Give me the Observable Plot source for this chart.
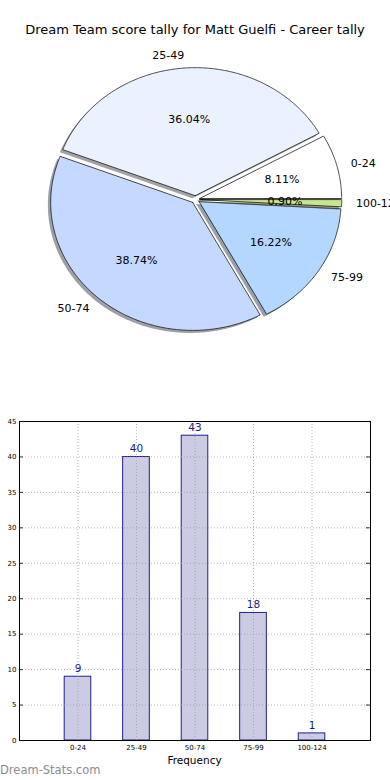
<!DOCTYPE html>
<html><head><meta charset="utf-8">
<script src="https://cdn.jsdelivr.net/npm/d3@7"></script>
<script src="https://cdn.jsdelivr.net/npm/@observablehq/plot@0.6"></script>
<style>
body{margin:0;background:#fff;font-family:"DejaVu Sans",sans-serif;}
#wrap{position:relative;width:390px;height:780px;overflow:hidden;background:#fff;}
.abs{position:absolute;white-space:nowrap;}
</style></head><body><div id="wrap"></div>
<script>
const categories = ["0-24", "25-49", "50-74", "75-99", "100-124"];
const counts = [9, 40, 43, 18, 1];
const sliceColors = ["#ffffff", "#eaf1ff", "#c5d8ff", "#b3d7ff", "#c8e68e"];
const yTicks = [0, 5, 10, 15, 20, 25, 30, 35, 40, 45];
const chartTitle = "Dream Team score tally for Matt Guelfi - Career tally";
const xLabel = "Frequency";
const watermark = "Dream-Stats.com";
const explode = 0.03;

const wrap = document.getElementById("wrap");
const total = d3.sum(counts);

// ---- pie geometry from data ----
let acc = 0;
const slices = categories.map((c, i) => {
  const a0 = acc / total * 2 * Math.PI;
  acc += counts[i];
  const a1 = acc / total * 2 * Math.PI;
  const mid = (a0 + a1) / 2;
  return {c, i, a0, a1, mid, ex: explode * Math.cos(mid), ey: explode * Math.sin(mid),
          pct: counts[i] / total * 100, color: sliceColors[i]};
});
function ring(s, ox = 0, oy = 0) {
  const pts = [{x: s.ex + ox, y: s.ey + oy}];
  const n = Math.max(3, Math.ceil((s.a1 - s.a0) / (Math.PI / 360)));
  for (let k = 0; k <= n; k++) {
    const a = s.a0 + (s.a1 - s.a0) * k / n;
    pts.push({x: s.ex + ox + Math.cos(a), y: s.ey + oy + Math.sin(a)});
  }
  pts.push({x: s.ex + ox, y: s.ey + oy});
  return pts;
}
function shadowColor(c) {
  const k = d3.rgb(c);
  return d3.rgb(k.r * 0.3, k.g * 0.3, k.b * 0.3).formatHex();
}
const pieMarks = [];
slices.forEach(s => {
  pieMarks.push(Plot.line(ring(s, -0.02, -0.02), {x: "x", y: "y", fill: shadowColor(s.color), fillOpacity: 0.5, stroke: "none"}));
  pieMarks.push(Plot.line(ring(s), {x: "x", y: "y", fill: s.color, stroke: "#000", strokeWidth: 0.7, strokeLinejoin: "miter"}));
});
pieMarks.push(Plot.text(slices, {
  x: d => d.ex + 0.6 * Math.cos(d.mid), y: d => d.ey + 0.6 * Math.sin(d.mid),
  text: d => d.pct.toFixed(2) + "%", fontSize: 11, fill: "#000"
}));
pieMarks.push(Plot.text(slices.filter(d => Math.cos(d.mid) >= 0), {
  x: d => d.ex + 1.1 * Math.cos(d.mid), y: d => d.ey + 1.1 * Math.sin(d.mid),
  text: "c", textAnchor: "start", fontSize: 11, fill: "#000"
}));
pieMarks.push(Plot.text(slices.filter(d => Math.cos(d.mid) < 0), {
  x: d => d.ex + 1.1 * Math.cos(d.mid), y: d => d.ey + 1.1 * Math.sin(d.mid),
  text: "c", textAnchor: "end", fontSize: 11, fill: "#000"
}));

const pie = Plot.plot({
  width: 390, height: 400,
  x: {domain: [-1, 1], range: [53, 337], axis: null},
  y: {domain: [-1, 1], range: [327, 71], axis: null},
  style: {fontFamily: "DejaVu Sans", background: "transparent", overflow: "hidden"},
  marks: pieMarks
});
pie.style.position = "absolute"; pie.style.left = "0px"; pie.style.top = "0px";
wrap.appendChild(pie);

// ---- bar chart ----
const barData = categories.map((c, i) => ({cat: c, count: counts[i]}));
const frameW = 390 - 19 - 20, frameH = 360 - 11 - 30;
const bar = Plot.plot({
  width: 390, height: 360,
  marginLeft: 19, marginRight: 20, marginTop: 11, marginBottom: 30,
  x: {domain: categories, paddingInner: 0.545, paddingOuter: 0.772, round: false, label: null},
  y: {domain: [0, 45], label: null},
  style: {fontFamily: "DejaVu Sans", background: "transparent"},
  marks: [
    Plot.barY(barData, {x: "cat", y: "count", fill: "#cbcbe3", stroke: "#0a0a80", strokeWidth: 0.9}),
    Plot.gridY(yTicks, {stroke: "#9a9a9a", strokeOpacity: 0.9, strokeDasharray: "1,2", strokeWidth: 0.8}),
    Plot.gridX({stroke: "#9a9a9a", strokeOpacity: 0.9, strokeDasharray: "1,2", strokeWidth: 0.8}),
    Plot.tickY(yTicks, {y: d => d, insetRight: frameW - 4, stroke: "#000", strokeWidth: 0.8}),
    Plot.tickY(yTicks, {y: d => d, insetLeft: frameW - 4, stroke: "#000", strokeWidth: 0.8}),
    Plot.axisY({ticks: yTicks, tickSize: 0, tickPadding: 3, fontSize: 7, label: null, fill: "#000"}),
    Plot.axisX({tickSize: 0, tickPadding: 5, fontSize: 7, label: null, fill: "#000"}),
    Plot.text(barData, {x: "cat", y: "count", text: d => String(d.count), dy: -8, fontSize: 10.5, fill: "#1a1a88"}),
    Plot.frame({stroke: "#000", strokeWidth: 1})
  ]
});
bar.style.position = "absolute"; bar.style.left = "0px"; bar.style.top = "410px";
wrap.appendChild(bar);

function addText(txt, css) {
  const d = document.createElement("div");
  d.className = "abs"; d.textContent = txt;
  Object.assign(d.style, css);
  wrap.appendChild(d);
}
addText(chartTitle, {left: "0px", width: "390px", textAlign: "center", top: "22px", fontSize: "13px", lineHeight: "16px", color: "#000"});
addText(xLabel, {left: "144px", width: "101px", textAlign: "center", top: "754px", fontSize: "10.5px", lineHeight: "12px", color: "#000"});
addText(watermark, {left: "0px", top: "763px", fontSize: "11.5px", lineHeight: "14px", color: "#8c8c8c"});
</script></body></html>
